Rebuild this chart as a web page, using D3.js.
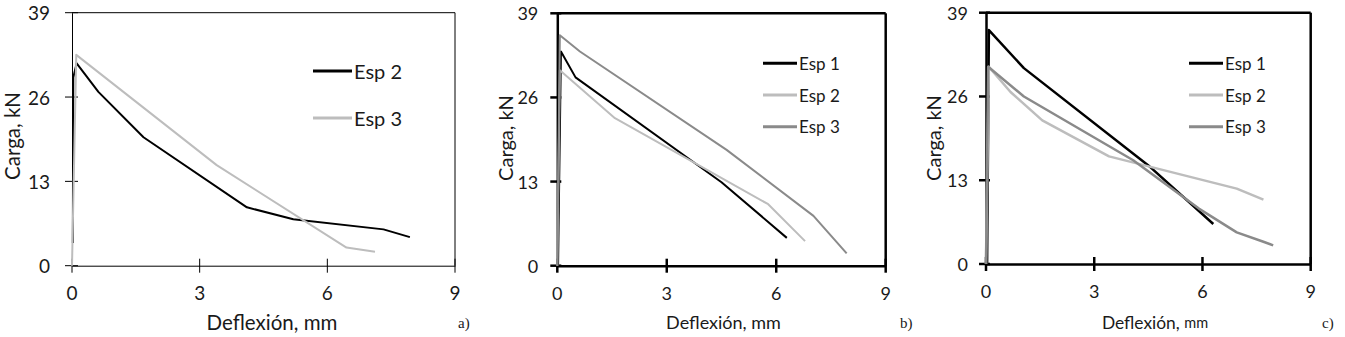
<!DOCTYPE html>
<html><head><meta charset="utf-8">
<script src="https://cdn.jsdelivr.net/npm/d3@7"></script>
<style>
html,body{margin:0;padding:0;background:#fff;}
svg{display:block;}
text{font-family:Lato, "Open Sans", sans-serif;fill:#1a1a1a;}
</style></head>
<body>
<svg id="chart" width="1345" height="337"></svg>
<script>
// ---- tick labels ----
const xTicks = [0, 3, 6, 9];
const yTicks = [0, 13, 26, 39];

// ---- panel a ----
const aEsp2X = [0.02, 0.03, 0.11, 0.62, 1.68, 4.11, 5.2, 7.32, 7.94];
const aEsp2Y = [3.5, 29.0, 31.2, 26.8, 19.8, 9.0, 7.15, 5.6, 4.4];
const aEsp3X = [0, 0.1, 3.4, 6.45, 7.12];
const aEsp3Y = [0, 32.5, 15.5, 2.8, 2.15];

// ---- panel b ----
const bEsp1X = [0.02, 0.1, 0.5, 4.5, 6.29];
const bEsp1Y = [0, 33.1, 29.1, 12.9, 4.3];
const bEsp2X = [0, 0.07, 1.58, 5.78, 6.79];
const bEsp2Y = [0, 30.2, 22.8, 9.5, 3.8];
const bEsp3X = [0, 0.07, 0.62, 4.64, 7.02, 7.93];
const bEsp3Y = [0, 35.6, 33.1, 17.9, 7.7, 1.9];

// ---- panel c ----
const cEsp1X = [0.03, 0.08, 1.05, 4.5, 6.3];
const cEsp1Y = [0, 36.3, 30.4, 15.3, 6.2];
const cEsp2X = [0, 0.08, 0.68, 1.56, 3.41, 6.95, 7.69];
const cEsp2Y = [0, 30.6, 26.7, 22.3, 16.7, 11.7, 10.0];
const cEsp3X = [0, 0.06, 1.05, 4.08, 5.9, 6.95, 7.67, 7.96];
const cEsp3Y = [0, 30.6, 26.0, 16.1, 8.6, 4.9, 3.5, 2.9];

const yTitle = "Carga, kN";
const xTitleMain = "Deflexión, ";
const xTitleUnit = "mm";

const zip = (xs, ys) => xs.map((x, i) => [x, ys[i]]);

const svg = d3.select("#chart");

function drawPanel(p) {
  const x = d3.scaleLinear().domain([0, 9]).range([p.x0, p.x1]);
  const y = d3.scaleLinear().domain([0, 39]).range([p.y0, p.y1]);
  const g = svg.append("g");
  const sw = p.axisW;

  // frame: top + right
  g.append("line").attr("x1", p.x0).attr("x2", p.x1).attr("y1", p.y1).attr("y2", p.y1)
    .attr("stroke", "#000").attr("stroke-width", sw);
  g.append("line").attr("x1", p.x1).attr("x2", p.x1).attr("y1", p.y1).attr("y2", p.y0)
    .attr("stroke", "#000").attr("stroke-width", sw);

  // axes via d3 axis generators
  const ax = g.append("g").attr("transform", `translate(0,${p.y0})`)
    .call(d3.axisBottom(x).tickValues(xTicks).tickSize(0).tickPadding(0));
  ax.select(".domain").attr("stroke", "#000").attr("stroke-width", sw);
  ax.selectAll(".tick text").remove();
  const ay = g.append("g").attr("transform", `translate(${p.x0},0)`)
    .call(d3.axisLeft(y).tickValues(yTicks).tickSize(0).tickPadding(0));
  ay.select(".domain").attr("stroke", "#000").attr("stroke-width", sw);
  ay.selectAll(".tick text").remove();

  // crossing tick marks
  g.selectAll(".xt").data(xTicks).join("line")
    .attr("x1", d => x(d)).attr("x2", d => x(d))
    .attr("y1", p.y0 - 7).attr("y2", p.y0 + 7)
    .attr("stroke", "#000").attr("stroke-width", sw);
  g.selectAll(".yt").data(yTicks).join("line")
    .attr("x1", p.x0 - 7).attr("x2", p.x0 + p.tickIn)
    .attr("y1", d => y(d)).attr("y2", d => y(d))
    .attr("stroke", "#000").attr("stroke-width", sw);

  // tick labels
  g.selectAll(".xl").data(xTicks).join("text")
    .attr("x", d => x(d)).attr("y", p.y0 + 27)
    .attr("text-anchor", "middle").attr("dominant-baseline", "central")
    .style("font-size", p.tickFs + "px").text(d => d);
  g.selectAll(".yl").data(yTicks).join("text")
    .attr("x", p.x0 - p.yLabPad).attr("y", d => y(d))
    .attr("text-anchor", "end").attr("dominant-baseline", "central")
    .style("font-size", p.tickFs + "px").text(d => d);

  // axis titles
  g.append("text")
    .attr("transform", `translate(${p.yTitleX},${p.yTitleY}) rotate(-90)`)
    .attr("text-anchor", "middle").attr("dominant-baseline", "central")
    .style("font-size", p.yTitleFs + "px").text(yTitle);
  const xt = g.append("text").attr("x", p.xTitleX).attr("y", 322)
    .attr("text-anchor", "middle").attr("dominant-baseline", "central")
    .style("font-size", p.xTitleFs + "px");
  xt.append("tspan").text(xTitleMain);
  xt.append("tspan").style("font-size", p.unitFs + "px").text(xTitleUnit);

  // series
  const line = d3.line().x(d => x(d[0])).y(d => y(d[1]));
  p.series.forEach(s => {
    g.append("path").datum(zip(s.xs, s.ys))
      .attr("d", line).attr("fill", "none")
      .attr("stroke", s.color).attr("stroke-width", p.lineW)
      .attr("stroke-linejoin", "round");
  });

  // legend
  p.series.forEach((s, i) => {
    const ly = p.legY[i];
    g.append("line").attr("x1", p.legX0).attr("x2", p.legX1)
      .attr("y1", ly).attr("y2", ly)
      .attr("stroke", s.color).attr("stroke-width", 3);
    g.append("text").attr("x", p.legX1 + 2).attr("y", ly)
      .attr("dominant-baseline", "central")
      .style("font-size", p.legFs + "px").text(s.name);
  });

  // panel letter
  g.append("text").attr("x", p.letterX).attr("y", 323)
    .attr("dominant-baseline", "central")
    .style("font-family", "'Liberation Serif', serif")
    .style("font-size", "15px").text(p.letter);
}

const BLACK = "#000000", LIGHT = "#bdbdbd", DARK = "#8a8a8a";

drawPanel({
  x0: 72, x1: 455, y0: 265.7, y1: 12.7, axisW: 1, tickIn: 6, lineW: 2,
  tickFs: 19, yLabPad: 22, yTitleX: 12, yTitleY: 136, yTitleFs: 20.5,
  xTitleX: 272, xTitleFs: 20.5, unitFs: 20.5,
  legX0: 313, legX1: 352, legY: [71, 118], legFs: 20,
  letter: "a)", letterX: 458,
  series: [
    {name: "Esp 2", xs: aEsp2X, ys: aEsp2Y, color: BLACK},
    {name: "Esp 3", xs: aEsp3X, ys: aEsp3Y, color: LIGHT}
  ]
});

drawPanel({
  x0: 557.3, x1: 885.7, y0: 265.7, y1: 13.3, axisW: 2.5, tickIn: 4, lineW: 2,
  tickFs: 18, yLabPad: 19, yTitleX: 505, yTitleY: 138, yTitleFs: 20,
  xTitleX: 723.5, xTitleFs: 18, unitFs: 18,
  legX0: 763, legX1: 797, legY: [63.3, 95, 126.7], legFs: 17,
  letter: "b)", letterX: 900,
  series: [
    {name: "Esp 1", xs: bEsp1X, ys: bEsp1Y, color: BLACK},
    {name: "Esp 2", xs: bEsp2X, ys: bEsp2Y, color: LIGHT},
    {name: "Esp 3", xs: bEsp3X, ys: bEsp3Y, color: DARK}
  ]
});

drawPanel({
  x0: 986, x1: 1310.7, y0: 264, y1: 12.7, axisW: 2.5, tickIn: 4, lineW: 2.5,
  tickFs: 18, yLabPad: 18, yTitleX: 933, yTitleY: 138, yTitleFs: 20,
  xTitleX: 1155, xTitleFs: 17.4, unitFs: 14.5,
  legX0: 1189, legX1: 1223, legY: [63.3, 95, 126.7], legFs: 17,
  letter: "c)", letterX: 1322,
  series: [
    {name: "Esp 1", xs: cEsp1X, ys: cEsp1Y, color: BLACK},
    {name: "Esp 2", xs: cEsp2X, ys: cEsp2Y, color: LIGHT},
    {name: "Esp 3", xs: cEsp3X, ys: cEsp3Y, color: DARK}
  ]
});
</script>
</body></html>
